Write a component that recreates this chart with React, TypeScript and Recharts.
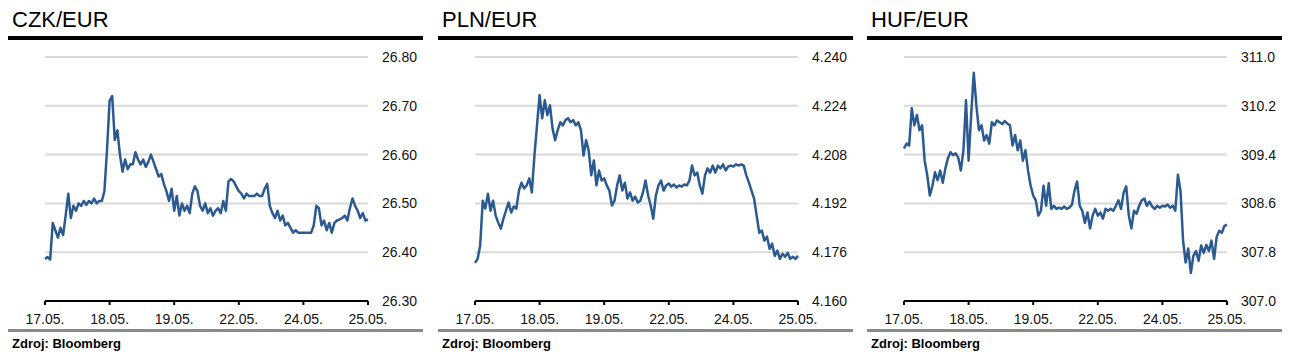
import { LineChart, Line, XAxis, YAxis, CartesianGrid } from "recharts";

const dateLabels = ["17.05.", "18.05.", "19.05.", "22.05.", "24.05.", "25.05."];
const dateTickPos = [0, 25, 50, 75, 100, 125];

const czkValues = [
  26.386, 26.39, 26.385, 26.46, 26.445, 26.43, 26.45, 26.435, 26.475, 26.52,
  26.47, 26.495, 26.485, 26.5, 26.495, 26.505, 26.497, 26.505, 26.5, 26.51,
  26.5, 26.505, 26.505, 26.525, 26.61, 26.71, 26.72, 26.63, 26.65, 26.6,
  26.565, 26.59, 26.57, 26.58, 26.58, 26.605, 26.59, 26.58, 26.59, 26.575,
  26.585, 26.6, 26.585, 26.57, 26.555, 26.56, 26.54, 26.525, 26.505, 26.53,
  26.485, 26.515, 26.475, 26.5, 26.485, 26.495, 26.48, 26.52, 26.535, 26.525,
  26.495, 26.485, 26.5, 26.48, 26.49, 26.475, 26.485, 26.49, 26.48, 26.505,
  26.485, 26.545, 26.55, 26.545, 26.535, 26.525, 26.52, 26.51, 26.52, 26.515,
  26.515, 26.515, 26.52, 26.515, 26.515, 26.53, 26.54, 26.495, 26.48, 26.47,
  26.485, 26.465, 26.475, 26.455, 26.46, 26.45, 26.44, 26.445, 26.44, 26.44,
  26.44, 26.44, 26.44, 26.44, 26.455, 26.495, 26.49, 26.455, 26.465, 26.445,
  26.46, 26.44, 26.46, 26.465, 26.467, 26.47, 26.475, 26.465, 26.49, 26.51,
  26.495, 26.485, 26.47, 26.48, 26.465, 26.467,
];

const plnValues = [
  4.1725, 4.1738, 4.1781, 4.1929, 4.1903, 4.1952, 4.1896, 4.1929, 4.188, 4.1857,
  4.1837, 4.187, 4.1896, 4.1923, 4.189, 4.191, 4.1903, 4.1962, 4.1988, 4.1969,
  4.1979, 4.2002, 4.1956, 4.2077, 4.2176, 4.2275, 4.2199, 4.2258, 4.2209, 4.2242,
  4.2166, 4.2127, 4.216, 4.2186, 4.2176, 4.2193, 4.2199, 4.2186, 4.2193, 4.2176,
  4.2186, 4.216, 4.2077, 4.2127, 4.2094, 4.2012, 4.2061, 4.1979, 4.2028, 4.1995,
  4.2002, 4.1979, 4.1962, 4.1913, 4.1929, 4.1979, 4.2012, 4.1962, 4.1988, 4.1936,
  4.1956, 4.1929, 4.1942, 4.1923, 4.1929, 4.1956, 4.1995, 4.1946, 4.1913, 4.187,
  4.1946, 4.1979, 4.1995, 4.1962, 4.1979, 4.1985, 4.1975, 4.1982, 4.1972, 4.1979,
  4.1975, 4.1982, 4.1979, 4.1995, 4.2044, 4.2012, 4.2021, 4.1979, 4.1952, 4.2012,
  4.2035, 4.2021, 4.2044, 4.2021, 4.2044, 4.2035, 4.2048, 4.2028, 4.2041, 4.2044,
  4.2041, 4.2048, 4.2044, 4.2048, 4.2044, 4.2012, 4.1988, 4.1962, 4.1936, 4.188,
  4.1824, 4.1831, 4.1798, 4.1811, 4.1771, 4.1788, 4.1748, 4.1765, 4.1738, 4.1755,
  4.1745, 4.1758, 4.1738, 4.1745, 4.1738, 4.1748,
];

const hufValues = [
  309.5, 309.58, 309.55, 310.16, 309.88, 310.05, 309.8, 309.88, 309.3, 309.06,
  308.73, 308.89, 309.11, 308.98, 309.14, 308.94, 309.17, 309.34, 309.44, 309.39,
  309.42, 309.35, 309.14, 309.47, 310.29, 309.3, 310.05, 310.74, 310.21, 309.8,
  309.88, 309.63, 309.72, 309.58, 309.93, 309.88, 309.96, 309.93, 309.9, 309.95,
  309.91, 309.88, 309.55, 309.72, 309.47, 309.63, 309.3, 309.47, 309.14, 308.89,
  308.73, 308.65, 308.4, 308.48, 308.89, 308.56, 308.93, 308.51, 308.56, 308.51,
  308.53, 308.51, 308.55, 308.51, 308.53, 308.58, 308.81, 308.96, 308.56, 308.48,
  308.28, 308.45, 308.19, 308.4, 308.51, 308.4, 308.45, 308.35, 308.51, 308.48,
  308.51, 308.48, 308.56, 308.65, 308.51, 308.78, 308.88, 308.4, 308.19, 308.48,
  308.43, 308.56, 308.65, 308.68, 308.56, 308.63, 308.55, 308.51, 308.56, 308.53,
  308.56, 308.55, 308.58, 308.53, 308.56, 308.48, 309.07, 308.81, 307.99, 307.63,
  307.86, 307.46, 307.74, 307.82, 307.66, 307.91, 307.79, 307.92, 307.82, 307.99,
  307.69, 308.05, 308.15, 308.12, 308.23, 308.25,
];

const czkTicks = [26.3, 26.4, 26.5, 26.6, 26.7, 26.8];
const plnTicks = [4.16, 4.176, 4.192, 4.208, 4.224, 4.24];
const hufTicks = [307.0, 307.8, 308.6, 309.4, 310.2, 311.0];

const FONT = '"Liberation Sans", Arial, Helvetica, sans-serif';
const LINE_COLOR = "#2b5a91";

interface PanelProps {
  title: string;
  values: number[];
  ticks: number[];
  digits: number;
  left: number;
}

function Panel({ title, values, ticks, digits, left }: PanelProps) {
  const data = values.map((v, i) => ({ x: i, v }));
  return (
    <div style={{ position: "absolute", left, top: 0, width: 415, height: 346 }}>
      <div
        style={{
          position: "absolute",
          left: 4,
          top: 1,
          fontFamily: FONT,
          fontSize: 22,
          lineHeight: "22px",
          color: "#000",
        }}
      >
        {title}
      </div>
      <div
        style={{ position: "absolute", left: 0, top: 28, width: 415, height: 4, background: "#000" }}
      />
      <div style={{ position: "absolute", left: 0, top: 32 }}>
        <LineChart
          width={415}
          height={290}
          data={data}
          margin={{ top: 17, right: 0, left: 37, bottom: 0 }}
        >
          <CartesianGrid
            horizontal={true}
            vertical={false}
            stroke="#d9d9d9"
            strokeWidth={2}
          />
          <XAxis
            dataKey="x"
            type="number"
            domain={[0, 125]}
            ticks={dateTickPos}
            interval={0}
            height={29}
            tickFormatter={(v: number) => dateLabels[dateTickPos.indexOf(v)] ?? ""}
            axisLine={{ stroke: "#000", strokeWidth: 2 }}
            tickLine={{ stroke: "#000", strokeWidth: 2 }}
            tickSize={4}
            tickMargin={9}
            tick={{ fontSize: 14, fill: "#111", fontFamily: FONT }}
          />
          <YAxis
            orientation="right"
            type="number"
            domain={[ticks[0], ticks[ticks.length - 1]]}
            ticks={ticks}
            interval={0}
            width={55}
            axisLine={false}
            tickLine={false}
            tickMargin={8}
            tickFormatter={(v: number) => v.toFixed(digits)}
            tick={{ fontSize: 14, fill: "#111", fontFamily: FONT }}
          />
          <Line
            type="linear"
            dataKey="v"
            stroke={LINE_COLOR}
            strokeWidth={2.5}
            strokeLinejoin="round"
            dot={false}
            isAnimationActive={false}
          />
        </LineChart>
      </div>
      <div
        style={{ position: "absolute", left: 0, top: 321, width: 415, height: 3, background: "#8a8a8a" }}
      />
      <div
        style={{
          position: "absolute",
          left: 4,
          top: 329,
          fontFamily: FONT,
          fontSize: 13,
          lineHeight: "13px",
          fontWeight: "bold",
          color: "#000",
        }}
      >
        Zdroj: Bloomberg
      </div>
    </div>
  );
}

export default function App() {
  return (
    <div style={{ position: "relative", width: 1278, height: 346, background: "#fff" }}>
      <Panel title="CZK/EUR" values={czkValues} ticks={czkTicks} digits={2} left={0} />
      <Panel title="PLN/EUR" values={plnValues} ticks={plnTicks} digits={3} left={430} />
      <Panel title="HUF/EUR" values={hufValues} ticks={hufTicks} digits={1} left={859} />
    </div>
  );
}
